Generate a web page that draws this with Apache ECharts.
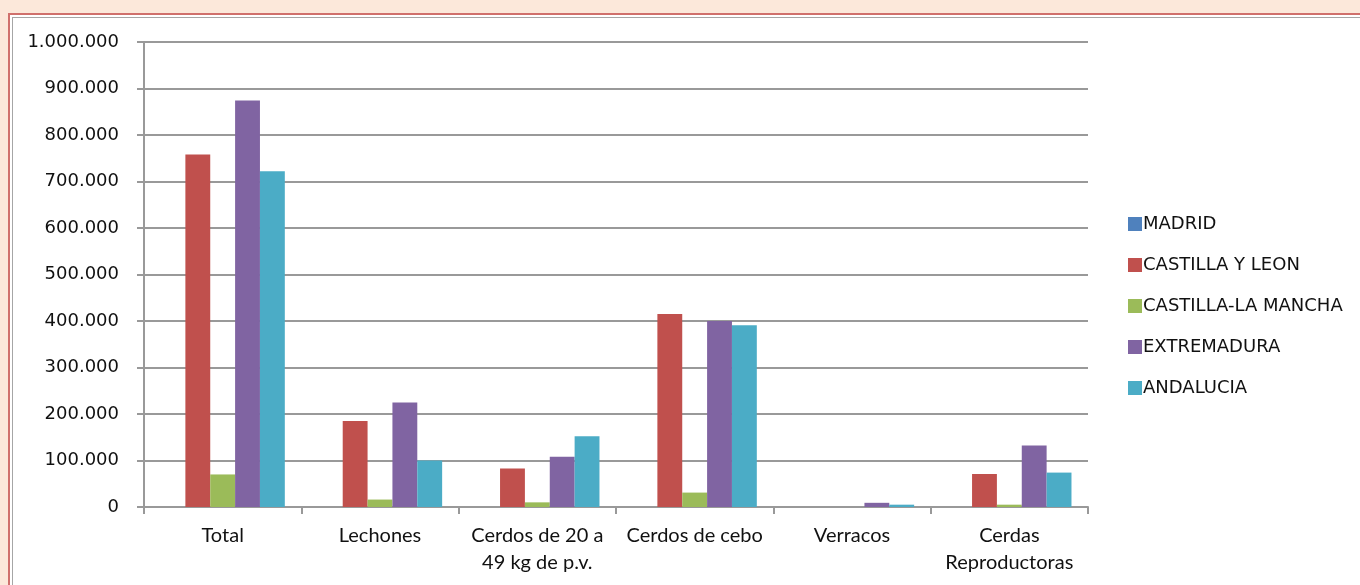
<!DOCTYPE html>
<html>
<head>
<meta charset="utf-8">
<script src="https://cdn.jsdelivr.net/npm/echarts@6/dist/echarts.min.js"></script>
<style>
  html, body { margin: 0; padding: 0; }
  body { width: 1360px; height: 585px; background: #fce8da; position: relative; overflow: hidden; }
  /* marco rojo + gris como en la hoja original */
  #frame { position: absolute; left: 8px; top: 13px; right: -10px; bottom: -10px;
    border-left: 2px solid #d0706c; border-top: 2px solid #d0706c; background: #fff; }
  #frame-inner { position: absolute; left: 2px; top: 2px; right: 0; bottom: 0;
    border-left: 1px solid #a6a6a6; border-top: 1px solid #a6a6a6; }
  #chart { position: absolute; left: 0; top: 0; width: 1360px; height: 585px; }
</style>
</head>
<body>
<div id="frame"><div id="frame-inner"></div></div>
<div id="chart"></div>
<script>
  // categorías del eje x
  const categories = ['Total', 'Lechones', 'Cerdos de 20 a\n49 kg de p.v.', 'Cerdos de cebo', 'Verracos', 'Cerdas\nReproductoras']
  // marcas de la escala
  const yTicks = { min: 0, max: 1000000, interval: 100000 }

  // valores por comunidad
  const madrid = [0, 0, 0, 0, 0, 0]
  const castillaLeon = [758000, 185000, 83000, 415000, 0, 71000]
  const castillaMancha = [70000, 16000, 10000, 31000, 0, 5000]
  const extremadura = [874000, 225000, 108000, 400000, 9000, 132000]
  const andalucia = [722000, 100000, 152000, 391000, 5000, 74000]

  const seriesNames = ['MADRID', 'CASTILLA Y LEON', 'CASTILLA-LA MANCHA', 'EXTREMADURA', 'ANDALUCIA']
  const seriesData = [madrid, castillaLeon, castillaMancha, extremadura, andalucia]
  const colors = ['#4f81bd', '#c0504d', '#9bbb59', '#8064a2', '#4bacc6']

  const chart = echarts.init(document.getElementById('chart'))

  const fmt = (v) => String(v).replace(/\B(?=(\d{3})+(?!\d))/g, '.')

  const option = {
    animation: false,
    color: colors,
    grid: { left: 144, right: 272, top: 42, bottom: 78 },
    legend: {
      orient: 'vertical',
      left: 1123,
      top: 210,
      itemWidth: 14,
      itemHeight: 14,
      itemGap: 23,
      icon: 'rect',
      textStyle: { fontFamily: 'DejaVu Sans', fontSize: 18, color: '#111', padding: [0, 0, 0, -4] },
      data: seriesNames,
    },
    xAxis: {
      type: 'category',
      data: categories,
      axisLine: { lineStyle: { color: '#999', width: 2 } },
      axisTick: { show: true, length: 7, lineStyle: { color: '#999', width: 2 } },
      axisLabel: {
        margin: 15,
        fontFamily: 'Lato',
        fontSize: 20,
        lineHeight: 27,
        color: '#111',
        interval: 0,
      },
    },
    yAxis: {
      type: 'value',
      min: yTicks.min,
      max: yTicks.max,
      interval: yTicks.interval,
      axisLine: { show: true, lineStyle: { color: '#999', width: 2 } },
      axisTick: { show: true, length: 7, lineStyle: { color: '#999', width: 2 } },
      splitLine: { lineStyle: { color: '#999', width: 2 } },
      axisLabel: {
        margin: 25,
        fontFamily: 'DejaVu Sans',
        fontSize: 18,
        color: '#111',
        formatter: fmt,
      },
    },
    series: seriesData.map((d, i) => ({
      name: seriesNames[i],
      type: 'bar',
      data: d,
      barGap: '0%',
      barCategoryGap: '21%',
      itemStyle: { color: colors[i] },
    })),
  }

  chart.setOption(option)
</script>
</body>
</html>
